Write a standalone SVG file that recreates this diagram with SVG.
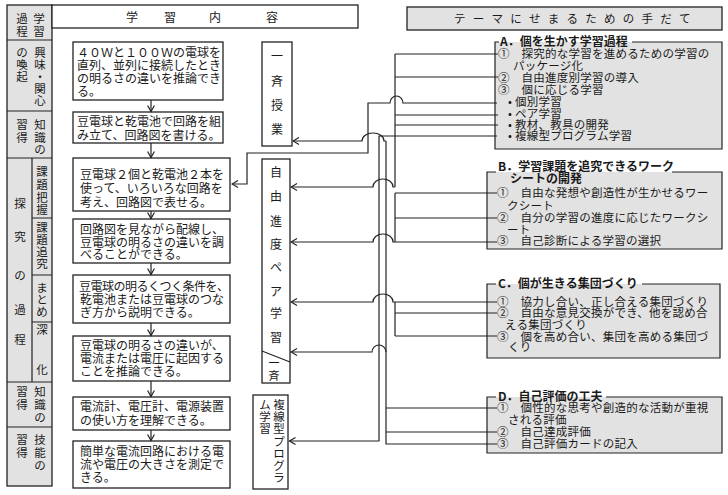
<svg xmlns="http://www.w3.org/2000/svg" width="728" height="495" viewBox="0 0 728 495">
<defs>
<style>
.ln{fill:none;stroke:#222;stroke-width:1.2}
.box{fill:#fff;stroke:#222;stroke-width:1.3}
.gray{fill:#e2e2e2}
.gbox{fill:#e2e2e2;stroke:#222;stroke-width:1.3}
.t{font-family:'Noto Sans CJK JP','Noto Sans CJK SC',sans-serif;font-size:12px;fill:#1a1a1a}
.s{font-size:11.5px;letter-spacing:0.25px}
.c{font-size:11.5px}
.b{font-weight:bold}
.m{text-anchor:middle}
</style>
<marker id="ah" markerWidth="8" markerHeight="8" refX="7" refY="4" orient="auto" markerUnits="userSpaceOnUse">
<path d="M1,0.6 L7,4 L1,7.4" fill="none" stroke="#222" stroke-width="1.2"/>
</marker>
</defs>
<rect width="728" height="495" fill="#fff"/>

<g id="stage-column">
<rect x="7" y="5" width="45" height="481" class="gbox"/>
<path class="ln" d="M7,40H52M7,111H52M7,158H52M7,382H52M7,427H52M32,158V382M32,218H52M32,275H52M32,322H52"/>
<text class="t c m"><tspan x="39" y="23">学</tspan><tspan x="39" y="36">習</tspan><tspan x="22" y="23">過</tspan><tspan x="22" y="36">程</tspan></text>
<text class="t c m"><tspan x="40" y="57">興</tspan><tspan x="40" y="69">味</tspan><tspan x="40" y="81">・</tspan><tspan x="40" y="93">関</tspan><tspan x="40" y="105">心</tspan><tspan x="22" y="57">の</tspan><tspan x="22" y="69">喚</tspan><tspan x="22" y="81">起</tspan></text>
<text class="t c m"><tspan x="40" y="129">知</tspan><tspan x="40" y="142">識</tspan><tspan x="40" y="154">の</tspan><tspan x="22" y="129">習</tspan><tspan x="22" y="142">得</tspan></text>
<text class="t c m"><tspan x="20" y="208">探</tspan><tspan x="20" y="241">究</tspan><tspan x="20" y="280">の</tspan><tspan x="20" y="314">過</tspan><tspan x="20" y="344">程</tspan></text>
<text class="t c m"><tspan x="42" y="176">課</tspan><tspan x="42" y="189">題</tspan><tspan x="42" y="202">把</tspan><tspan x="42" y="214">握</tspan></text>
<text class="t c m"><tspan x="42" y="232">課</tspan><tspan x="42" y="244">題</tspan><tspan x="42" y="256">追</tspan><tspan x="42" y="268">究</tspan></text>
<text class="t c m"><tspan x="42" y="292">ま</tspan><tspan x="42" y="304">と</tspan><tspan x="42" y="316">め</tspan></text>
<text class="t c m"><tspan x="42" y="334">深</tspan><tspan x="42" y="374">化</tspan></text>
<text class="t c m"><tspan x="40" y="396">知</tspan><tspan x="40" y="409">識</tspan><tspan x="40" y="422">の</tspan><tspan x="22" y="396">習</tspan><tspan x="22" y="409">得</tspan></text>
<text class="t c m"><tspan x="40" y="444">技</tspan><tspan x="40" y="457">能</tspan><tspan x="40" y="470">の</tspan><tspan x="22" y="444">習</tspan><tspan x="22" y="457">得</tspan></text>
</g>

<g id="header-content">
<rect x="52" y="5" width="306" height="23" class="box"/>
<text class="t m" y="21.5"><tspan x="132">学</tspan><tspan x="170">習</tspan><tspan x="215">内</tspan><tspan x="272">容</tspan></text>
</g>

<g id="header-means">
<rect x="407" y="7" width="315" height="23" class="gbox"/>
<text class="t" x="454" y="22.5" style="font-size:11.5px;letter-spacing:7.25px">テーマにせまるための手だて</text>
</g>

<g id="c1"><rect x="73" y="42" width="150" height="58" class="box"/>
<text class="t"><tspan x="77" y="57">４０Ｗと１００Ｗの電球を</tspan><tspan x="77" y="70">直列、並列に接続したとき</tspan><tspan x="77" y="83">の明るさの違いを推論でき</tspan><tspan x="77" y="96">る。</tspan></text></g>
<g id="c2"><rect x="73" y="112" width="150" height="31" class="box"/>
<text class="t"><tspan x="77" y="126">豆電球と乾電池で回路を組</tspan><tspan x="77" y="140">み立て、回路図を書ける。</tspan></text></g>
<g id="c3"><rect x="73" y="158" width="157" height="53" class="box"/>
<text class="t"><tspan x="80" y="179">豆電球２個と乾電池２本を</tspan><tspan x="80" y="193">使って、いろいろな回路を</tspan><tspan x="80" y="207">考え、回路図で表せる。</tspan></text></g>
<g id="c4"><rect x="73" y="219" width="157" height="44" class="box"/>
<text class="t"><tspan x="80" y="234">回路図を見ながら配線し、</tspan><tspan x="80" y="247">豆電球の明るさの違いを調</tspan><tspan x="80" y="259">べることができる。</tspan></text></g>
<g id="c5"><rect x="73" y="275" width="157" height="48" class="box"/>
<text class="t"><tspan x="79" y="291" style="letter-spacing:-0.5px">豆電球の明るくつく条件を、</tspan><tspan x="80" y="304">乾電池または豆電球のつな</tspan><tspan x="80" y="317">ぎ方から説明できる。</tspan></text></g>
<g id="c6"><rect x="73" y="336" width="157" height="45" class="box"/>
<text class="t"><tspan x="80" y="350">豆電球の明るさの違いが、</tspan><tspan x="80" y="363">電流または電圧に起因する</tspan><tspan x="80" y="376">ことを推論できる。</tspan></text></g>
<g id="c7"><rect x="73" y="397" width="157" height="33" class="box"/>
<text class="t"><tspan x="80" y="411">電流計、電圧計、電源装置</tspan><tspan x="80" y="425">の使い方を理解できる。</tspan></text></g>
<g id="c8"><rect x="73" y="441" width="157" height="47" class="box"/>
<text class="t"><tspan x="80" y="456">簡単な電流回路における電</tspan><tspan x="80" y="469">流や電圧の大きさを測定で</tspan><tspan x="80" y="482">きる。</tspan></text></g>

<g id="issei">
<rect x="262" y="42" width="30" height="104" class="box"/>
<text class="t m"><tspan x="277" y="61">一</tspan><tspan x="277" y="86">斉</tspan><tspan x="277" y="110">授</tspan><tspan x="277" y="134">業</tspan></text>
</g>
<g id="jiyu">
<rect x="262" y="159" width="28" height="224" class="box"/>
<path class="ln" d="M262,351 L290,362"/>
<text class="t m"><tspan x="276" y="177">自</tspan><tspan x="276" y="201">由</tspan><tspan x="276" y="226">進</tspan><tspan x="276" y="249">度</tspan><tspan x="276" y="272">ペ</tspan><tspan x="276" y="296">ア</tspan><tspan x="276" y="318">学</tspan><tspan x="276" y="342">習</tspan></text>
<text class="t m" style="font-size:11px"><tspan x="274" y="367">一</tspan><tspan x="274" y="380">斉</tspan></text>
</g>
<g id="fukusen">
<rect x="253" y="395" width="35" height="94" class="box"/>
<text class="t c m"><tspan x="279" y="409">複</tspan><tspan x="279" y="421">線</tspan><tspan x="279" y="433">型</tspan><tspan x="279" y="446">プ</tspan><tspan x="279" y="458">ロ</tspan><tspan x="279" y="470">グ</tspan><tspan x="279" y="482">ラ</tspan><tspan x="265" y="409">ム</tspan><tspan x="265" y="421">学</tspan><tspan x="265" y="433">習</tspan></text>
</g>

<g id="means-a">
<rect x="495" y="42" width="227" height="107" class="gray"/>
<path class="ln" d="M499,42H495V149H722V42H632"/>
<text class="t b" x="500" y="46">A．個を生かす学習過程</text>
<text class="t s"><tspan x="498" y="58">①　探究的な学習を進めるための学習の</tspan><tspan x="513" y="70">パッケージ化</tspan><tspan x="498" y="82">②　自由進度別学習の導入</tspan><tspan x="498" y="94">③　個に応じる学習</tspan><tspan x="508" y="106">• 個別学習</tspan><tspan x="508" y="118">• ペア学習</tspan><tspan x="508" y="129">• 教材、教具の開発</tspan><tspan x="508" y="140">• 複線型プログラム学習</tspan></text>
</g>
<g id="means-b">
<rect x="487" y="172" width="235" height="77" class="gray"/>
<path class="ln" d="M496,172H487V249H722V172H672"/>
<text class="t b"><tspan x="498" y="171">B．学習課題を追究できるワーク</tspan><tspan x="510" y="183">シートの開発</tspan></text>
<text class="t s"><tspan x="497" y="197">①　自由な発想や創造性が生かせるワー</tspan><tspan x="507" y="210">クシート</tspan><tspan x="497" y="222">②　自分の学習の進度に応じたワークシ</tspan><tspan x="507" y="234">ート</tspan><tspan x="497" y="245">③　自己診断による学習の選択</tspan></text>
</g>
<g id="means-c">
<rect x="487" y="284" width="233" height="74" class="gray"/>
<path class="ln" d="M496,284H487V358H720V284H642"/>
<text class="t b" x="498" y="288">C．個が生きる集団づくり</text>
<text class="t s"><tspan x="497" y="306">①　協力し合い、正し合える集団づくり</tspan><tspan x="497" y="317">②　自由な意見交換ができ、他を認め合</tspan><tspan x="505" y="329">える集団づくり</tspan><tspan x="497" y="341">③　個を高め合い、集団を高める集団づ</tspan><tspan x="508" y="351">くり</tspan></text>
</g>
<g id="means-d">
<rect x="487" y="397" width="235" height="56" class="gray"/>
<path class="ln" d="M496,397H487V453H722V397H606"/>
<text class="t b" x="498" y="401">D．自己評価の工夫</text>
<text class="t s"><tspan x="497" y="412">①　個性的な思考や創造的な活動が重視</tspan><tspan x="508" y="424">される評価</tspan><tspan x="497" y="436">②　自己達成評価</tspan><tspan x="497" y="448">③　自己評価カードの記入</tspan></text>
</g>

<g id="connectors">
<path class="ln" marker-end="url(#ah)" d="M151,100V111.5"/>
<path class="ln" marker-end="url(#ah)" d="M151,143V157.5"/>
<path class="ln" marker-end="url(#ah)" d="M151,211V218.5"/>
<path class="ln" marker-end="url(#ah)" d="M151,263V274.5"/>
<path class="ln" marker-end="url(#ah)" d="M151,323V335.5"/>
<path class="ln" marker-end="url(#ah)" d="M151,381V396.5"/>
<path class="ln" marker-end="url(#ah)" d="M151,430V440.5"/>
<path class="ln" marker-end="url(#ah)" d="M497,103H403A6.5,7 0 0 0 390,103H368V153H247V184H232"/>
<path class="ln" d="M395,54V187M395,54H498M395,77H498M395,115H498M395,125H498"/>
<path class="ln" marker-end="url(#ah)" d="M497,136H379V441H289.5"/>
<path class="ln" marker-end="url(#ah)" d="M386,141H384A11,8 0 0 0 362,141H293"/>
<path class="ln" d="M386,141V444H497M386,408H497M386,432H497"/>
<path class="ln" marker-end="url(#ah)" d="M386,352A7,7 0 0 0 372,352H291"/>
<path class="ln" marker-end="url(#ah)" d="M395,187H393A10,8 0 0 0 373,187H291"/>
<path class="ln" d="M395,193V242M395,193H497M395,218H497M395,242H497"/>
<path class="ln" marker-end="url(#ah)" d="M395,242H393A10,8 0 0 0 373,242H291"/>
<path class="ln" d="M395,302V336M395,302H497M395,313H497M395,336H497"/>
<path class="ln" marker-end="url(#ah)" d="M395,302H393A10,8 0 0 0 373,302H291"/>
</g>
</svg>
